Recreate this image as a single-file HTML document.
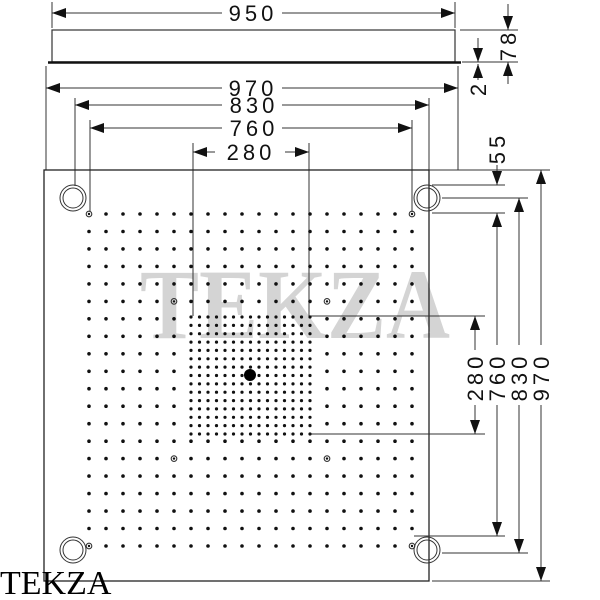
<!DOCTYPE html>
<html><head><meta charset="utf-8"><style>
html,body{margin:0;padding:0;background:#fff;}
svg{display:block}
.d{font-family:"Liberation Sans",sans-serif;font-size:22px;letter-spacing:4px;fill:#111}
</style></head><body>
<svg id="s" width="600" height="600" viewBox="0 0 600 600" xmlns="http://www.w3.org/2000/svg">
<defs>
<marker id="a" viewBox="0 0 14 10" refX="14" refY="5" markerWidth="14" markerHeight="10" markerUnits="userSpaceOnUse" orient="auto"><path d="M0,0L14,5L0,10Z" fill="#111"/></marker>
<marker id="b" viewBox="0 0 14 10" refX="0" refY="5" markerWidth="14" markerHeight="10" markerUnits="userSpaceOnUse" orient="auto"><path d="M14,0L0,5L14,10Z" fill="#111"/></marker>
</defs>
<text x="295" y="338" text-anchor="middle" font-family="Liberation Serif,serif" font-weight="bold" font-size="100" textLength="310" lengthAdjust="spacingAndGlyphs" fill="#d4d4d4">TEKZA</text>
<g stroke="#333" stroke-width="1" fill="none">
<rect x="52" y="30" width="403" height="32" stroke-width="1.2"/>
<line x1="48" y1="62.5" x2="461" y2="62.5" stroke-width="2.5" stroke="#111"/>
<line x1="52" y1="2" x2="52" y2="28"/><line x1="455" y1="2" x2="455" y2="28"/>
<line x1="52" y1="13" x2="222" y2="13" marker-start="url(#b)"/><line x1="282" y1="13" x2="455" y2="13" marker-end="url(#a)"/>
<line x1="46" y1="66" x2="46" y2="170"/><line x1="458" y1="66" x2="458" y2="170"/>
<line x1="46" y1="88" x2="222" y2="88" marker-start="url(#b)"/><line x1="282" y1="88" x2="458" y2="88" marker-end="url(#a)"/>
<line x1="75" y1="98" x2="75" y2="186"/><line x1="429" y1="98" x2="429" y2="186"/>
<line x1="75" y1="105" x2="222" y2="105" marker-start="url(#b)"/><line x1="282" y1="105" x2="429" y2="105" marker-end="url(#a)"/>
<line x1="90" y1="120" x2="90" y2="212"/><line x1="412" y1="120" x2="412" y2="212"/>
<line x1="90" y1="128" x2="222" y2="128" marker-start="url(#b)"/><line x1="282" y1="128" x2="412" y2="128" marker-end="url(#a)"/>
<line x1="193" y1="143" x2="193" y2="316"/><line x1="309" y1="143" x2="309" y2="316"/>
<line x1="193" y1="152" x2="215" y2="152" marker-start="url(#b)"/><line x1="285" y1="152" x2="309" y2="152" marker-end="url(#a)"/>
<rect x="44" y="170" width="385" height="411" stroke="#222" stroke-width="1.3"/>
<line x1="460" y1="30" x2="518" y2="30"/><line x1="462" y1="62" x2="518" y2="62"/>
<line x1="429" y1="170" x2="550" y2="170"/>
<line x1="432" y1="185" x2="505" y2="185"/>
<line x1="442" y1="198" x2="528" y2="198"/>
<line x1="432" y1="213" x2="505" y2="213"/>
<line x1="310" y1="316" x2="485" y2="316"/>
<line x1="310" y1="434" x2="485" y2="434"/>
<line x1="414" y1="536" x2="505" y2="536"/>
<line x1="442" y1="553" x2="528" y2="553"/>
<line x1="432" y1="581" x2="550" y2="581"/>
<line x1="508" y1="4" x2="508" y2="30" marker-end="url(#a)"/>
<line x1="508" y1="84" x2="508" y2="62" marker-end="url(#a)"/>
<line x1="478" y1="38" x2="478" y2="62" marker-end="url(#a)"/>
<line x1="478" y1="80" x2="478" y2="64" marker-end="url(#a)"/>
<line x1="497" y1="165" x2="497" y2="185" marker-end="url(#a)"/>
<line x1="475" y1="350" x2="475" y2="316" marker-end="url(#a)"/>
<line x1="475" y1="405" x2="475" y2="434" marker-end="url(#a)"/>
<line x1="497" y1="345" x2="497" y2="213" marker-end="url(#a)"/>
<line x1="497" y1="405" x2="497" y2="536" marker-end="url(#a)"/>
<line x1="519" y1="345" x2="519" y2="198" marker-end="url(#a)"/>
<line x1="519" y1="405" x2="519" y2="553" marker-end="url(#a)"/>
<line x1="541" y1="345" x2="541" y2="170" marker-end="url(#a)"/>
<line x1="541" y1="405" x2="541" y2="581" marker-end="url(#a)"/>
<circle cx="73" cy="198" r="13"/><circle cx="73" cy="198" r="10"/>
<circle cx="427" cy="198" r="13"/><circle cx="427" cy="198" r="10"/>
<circle cx="73" cy="550" r="13"/><circle cx="73" cy="550" r="10"/>
<circle cx="427" cy="550" r="13"/><circle cx="427" cy="550" r="10"/>
</g>
<g id="dots" fill="#111"></g>
<circle cx="250" cy="375" r="6" fill="#000"/>
<g class="d" text-anchor="middle">
<rect x="222" y="0" width="60" height="26" fill="#fff"/>
<text x="253" y="21">950</text>
<text x="253" y="96">970</text>
<text x="254" y="113">830</text>
<text x="254" y="136">760</text>
<text x="251" y="160">280</text>
<text transform="translate(516,45) rotate(-90)">78</text>
<text transform="translate(486,88) rotate(-90)">2</text>
<text transform="translate(505,148) rotate(-90)">55</text>
<text transform="translate(483,377) rotate(-90)">280</text>
<text transform="translate(505,377) rotate(-90)">760</text>
<text transform="translate(527,377) rotate(-90)">830</text>
<text transform="translate(549,377) rotate(-90)">970</text>
</g>
<text x="0" y="594" font-family="Liberation Serif,serif" font-size="34" fill="#000">TEKZA</text>
</svg>
<script>
var g=document.getElementById('dots'),h='';
function c(x,y,r){h+='<circle cx="'+x.toFixed(1)+'" cy="'+y.toFixed(1)+'" r="'+r+'"/>';}
function ring(x,y){h+='<circle cx="'+x.toFixed(1)+'" cy="'+y.toFixed(1)+'" r="2.8" fill="none" stroke="#333" stroke-width="1.1"/><circle cx="'+x.toFixed(1)+'" cy="'+y.toFixed(1)+'" r="1.2"/>';}
var sx=(412-89)/19, sy=(546-214)/19;
for(var i=0;i<20;i++)for(var j=0;j<20;j++){
 var x=89+i*sx,y=214+j*sy;
 if(x>186&&x<314&&y>312&&y<438)continue;
 var sp=(i==0||i==19)&&(j==0||j==19);
 var sp2=(i==5||i==14)&&(j==5||j==14);
 if(sp||sp2)ring(x,y);else c(x,y,1.8);
}
for(var i=0;i<15;i++)for(var j=0;j<15;j++){c(191+i*(119/14),317+j*(117/14),1.6);}
g.innerHTML=h;
</script>
</body></html>
